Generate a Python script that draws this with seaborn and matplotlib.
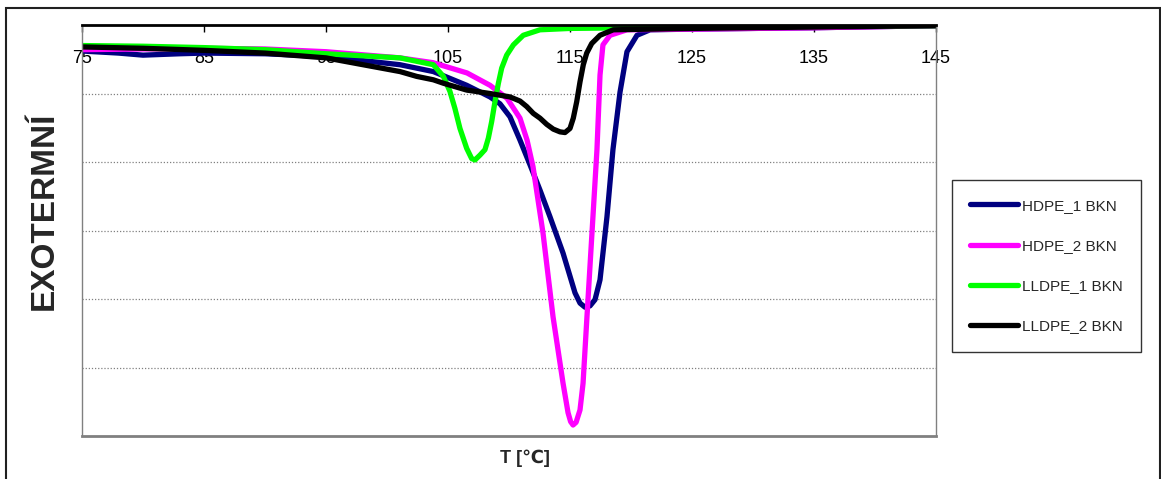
import matplotlib
matplotlib.use("Agg")
import matplotlib.pyplot as plt
import seaborn as sns
import pandas as pd
from matplotlib.patches import Rectangle

# DSC cooling curves (heat flow, arbitrary units) vs temperature [°C]
hdpe1_t = [75, 78, 80, 83, 85, 90, 95, 101.07, 103.8, 106.53, 108.44, 109.26, 110.08,
           110.90, 111.72, 112.54, 113.36, 114.43, 115.41, 115.82, 116.23, 116.64,
           117.05, 117.46, 118.03, 118.52, 119.10, 119.67, 120.49, 121.56, 125, 135, 145]
hdpe1_y = [-0.38, -0.41, -0.44, -0.42, -0.41, -0.42, -0.46, -0.58, -0.68, -0.88, -1.05,
           -1.15, -1.34, -1.68, -2.04, -2.41, -2.80, -3.33, -3.91, -4.06, -4.12, -4.10,
           -4.01, -3.72, -2.80, -1.82, -0.98, -0.39, -0.15, -0.07, -0.06, -0.04, -0.01]

hdpe2_t = [75, 80, 85, 90, 95, 101.07, 103.77, 106.56, 108.44, 109.84, 110.90, 111.48,
           111.97, 112.79, 113.61, 114.43, 114.84, 115.05, 115.25, 115.50, 115.82, 116.07,
           116.39, 116.80, 117.21, 117.46, 117.70, 118.28, 119.67, 125, 135, 145]
hdpe2_y = [-0.36, -0.35, -0.34, -0.35, -0.39, -0.48, -0.55, -0.70, -0.88, -1.07, -1.36,
           -1.68, -2.07, -3.04, -4.26, -5.23, -5.66, -5.79, -5.84, -5.80, -5.62, -5.23,
           -4.26, -3.04, -1.82, -0.73, -0.29, -0.15, -0.07, -0.06, -0.04, -0.01]

lldpe1_t = [75, 80, 85, 90, 95, 101.07, 103.80, 104.62, 105.16, 105.57, 105.98, 106.53,
            106.94, 107.21, 107.62, 108.03, 108.31, 108.58, 108.85, 109.13, 109.40,
            109.81, 110.36, 111.17, 112.54, 115, 125, 145]
lldpe1_y = [-0.30, -0.31, -0.33, -0.36, -0.42, -0.48, -0.58, -0.75, -0.97, -1.22, -1.51,
            -1.80, -1.95, -1.97, -1.90, -1.82, -1.65, -1.41, -1.12, -0.85, -0.63, -0.44,
            -0.29, -0.15, -0.07, -0.05, -0.03, -0.01]

lldpe2_t = [75, 80, 85, 90, 95, 101.07, 102.43, 103.80, 104.62, 106.53, 108.44, 110.08,
            110.90, 111.45, 111.99, 112.54, 113.09, 113.63, 114.18, 114.59, 115.00,
            115.27, 115.55, 115.82, 116.09, 116.37, 116.78, 117.46, 118.55, 125, 135, 145]
lldpe2_y = [-0.32, -0.34, -0.37, -0.41, -0.48, -0.68, -0.75, -0.80, -0.85, -0.95, -1.00,
            -1.05, -1.11, -1.19, -1.29, -1.36, -1.45, -1.52, -1.56, -1.57, -1.51, -1.36,
            -1.12, -0.83, -0.58, -0.41, -0.27, -0.15, -0.07, -0.05, -0.03, -0.01]

series_names = ["HDPE_1 BKN", "HDPE_2 BKN", "LLDPE_1 BKN", "LLDPE_2 BKN"]
series_colors = ["#000080", "#FF00FF", "#00FF00", "#000000"]
x_ticks = [75, 85, 95, 105, 115, 125, 135, 145]

frames = []
for name, t, y in zip(series_names,
                      [hdpe1_t, hdpe2_t, lldpe1_t, lldpe2_t],
                      [hdpe1_y, hdpe2_y, lldpe1_y, lldpe2_y]):
    frames.append(pd.DataFrame({"T": t, "q": y, "vzorek": name}))
df = pd.concat(frames, ignore_index=True)

sns.set_theme(style="white")
plt.rcParams["font.family"] = ["Liberation Sans", "DejaVu Sans"]

W, H = 1161, 479
fig = plt.figure(figsize=(W / 100, H / 100), dpi=100)
ax = fig.add_axes([82 / W, 1 - 436 / H, (936 - 82) / W, (436 - 25) / H])

sns.lineplot(data=df, x="T", y="q", hue="vzorek", hue_order=series_names,
             palette=dict(zip(series_names, series_colors)), linewidth=3.8,
             estimator=None, sort=False, ax=ax, legend=True,
             solid_joinstyle="round", solid_capstyle="round")

ax.set_xlim(75, 145)
ax.set_ylim(-6, 0)
ax.set_xticks(x_ticks)
ax.set_xticklabels([str(v) for v in x_ticks])
ax.set_yticks([-5, -4, -3, -2, -1])
ax.set_yticklabels([])
ax.tick_params(axis="y", left=False, length=0)
ax.tick_params(axis="x", bottom=False, top=True, labelbottom=False, labeltop=True,
               direction="in", length=5, width=1, color="black", pad=-30,
               labelsize=13, labelcolor="black")
ax.grid(axis="y", color="#808080", linestyle=(0, (1, 1.5)), linewidth=0.9)
ax.grid(axis="x", visible=False)

ax.spines["top"].set_color("black")
ax.spines["top"].set_linewidth(2)
ax.spines["top"].set_zorder(5)
for side in ("left", "right"):
    ax.spines[side].set_color("#808080")
    ax.spines[side].set_linewidth(1)
ax.spines["bottom"].set_color("#808080")
ax.spines["bottom"].set_linewidth(2)

ax.set_xlabel("")
ax.set_ylabel("")
fig.text(525 / W, 1 - 458 / H, "T [℃]", ha="center", va="center",
         fontsize=13, fontweight="bold")
fig.text(44 / W, 1 - 211 / H, "EXOTERMNÍ", ha="center", va="center",
         rotation=90, fontsize=24, fontweight="bold")

leg = ax.legend(loc="center left", bbox_to_anchor=(952 / W, 1 - 266 / H),
                bbox_transform=fig.transFigure, frameon=True, fancybox=False,
                edgecolor="black", fontsize=11, handlelength=3.1,
                handletextpad=0.28, labelspacing=1.72, borderpad=1.2,
                borderaxespad=0)
leg.get_frame().set_linewidth(1)
for line in leg.get_lines():
    line.set_linewidth(3.8)
    line.set_solid_capstyle("round")

fig.patches.append(Rectangle((6 / W, -0.02), (1160 - 6) / W, 1.02 - 8 / H,
                             transform=fig.transFigure, fill=False,
                             edgecolor="#202020", linewidth=1.5))

fig.savefig("out.png", dpi=100)
